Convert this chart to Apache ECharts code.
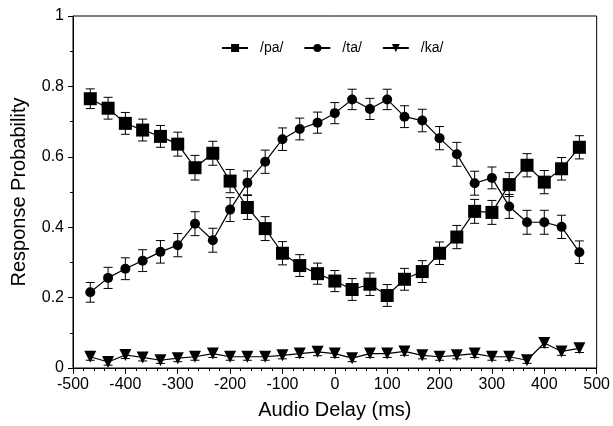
<!DOCTYPE html>
<html>
<head>
<meta charset="utf-8">
<script src="https://cdn.jsdelivr.net/npm/echarts@6/dist/echarts.min.js"></script>
<style>
html,body{margin:0;padding:0;background:#fff;}
#chart{width:613px;height:426px;}
</style>
</head>
<body>
<div id="chart"></div>
<script>
// ---- data ----
const delays = [-467,-433,-400,-367,-333,-300,-267,-233,-200,-167,-133,-100,-67,-33,0,33,67,100,133,167,200,233,267,300,333,367,400,433,467];
const paValues = [0.765,0.738,0.695,0.676,0.658,0.636,0.569,0.610,0.531,0.456,0.396,0.326,0.291,0.268,0.247,0.223,0.238,0.206,0.252,0.274,0.326,0.372,0.445,0.442,0.521,0.576,0.528,0.566,0.627];
const taValues = [0.215,0.256,0.282,0.305,0.330,0.349,0.410,0.363,0.450,0.526,0.586,0.650,0.679,0.697,0.724,0.763,0.736,0.763,0.714,0.703,0.653,0.607,0.525,0.540,0.459,0.414,0.414,0.401,0.329];
const kaValues = [0.032,0.017,0.037,0.030,0.022,0.028,0.032,0.041,0.032,0.032,0.032,0.036,0.041,0.046,0.041,0.028,0.041,0.041,0.047,0.036,0.032,0.036,0.041,0.032,0.032,0.022,0.071,0.047,0.056];
const paErrors = [0.028,0.031,0.031,0.031,0.031,0.034,0.035,0.034,0.033,0.034,0.034,0.033,0.031,0.030,0.030,0.031,0.032,0.031,0.031,0.031,0.032,0.033,0.034,0.034,0.034,0.033,0.033,0.032,0.033];
const taErrors = [0.028,0.030,0.031,0.031,0.032,0.033,0.034,0.034,0.034,0.034,0.033,0.032,0.031,0.030,0.030,0.029,0.030,0.029,0.031,0.032,0.033,0.034,0.034,0.031,0.034,0.034,0.034,0.033,0.032];
const kaErrors = [0.010,0.009,0.010,0.010,0.009,0.010,0.010,0.011,0.010,0.010,0.010,0.010,0.011,0.011,0.011,0.010,0.011,0.011,0.011,0.010,0.010,0.010,0.011,0.010,0.010,0.009,0.013,0.011,0.012];
const seriesNames = ['/pa/','/ta/','/ka/'];
const xTicks = {min:-500, max:500, interval:100};
const yTicks = {min:0, max:1, interval:0.2};

const FONT = 'Liberation Sans, Arial, sans-serif';
const chart = echarts.init(document.getElementById('chart'), null, {renderer:'canvas'});

function pairs(vals){ return delays.map((d,i)=>[d, vals[i]]); }
function errData(vals, errs){ return delays.map((d,i)=>[d, vals[i]-errs[i], vals[i]+errs[i]]); }

function errorSeries(vals, errs){
  return {
    type:'custom',
    silent:true,
    z:1,
    data: errData(vals, errs),
    renderItem: function(params, api){
      const x = api.value(0);
      const lo = api.coord([x, api.value(1)]);
      const hi = api.coord([x, api.value(2)]);
      const cw = 4.5;
      const st = {stroke:'#000', lineWidth:1};
      return {
        type:'group',
        children:[
          {type:'line', shape:{x1:lo[0], y1:lo[1], x2:hi[0], y2:hi[1]}, style:st},
          {type:'line', shape:{x1:lo[0]-cw, y1:lo[1], x2:lo[0]+cw, y2:lo[1]}, style:st},
          {type:'line', shape:{x1:hi[0]-cw, y1:hi[1], x2:hi[0]+cw, y2:hi[1]}, style:st}
        ]
      };
    }
  };
}

function lineSeries(name, vals, symbol, size, rotate){
  return {
    name:name,
    type:'line',
    z:3,
    data:pairs(vals),
    symbol:symbol,
    symbolSize:size,
    symbolRotate:rotate||0,
    showAllSymbol:true,
    lineStyle:{color:'#000', width:1.2},
    itemStyle:{color:'#000', borderWidth:0},
    emphasis:{disabled:true},
    animation:false
  };
}

const option = {
  animation:false,
  backgroundColor:'#fff',
  grid:{left:73, right:13, top:16, bottom:58, show:true, borderColor:'#000', borderWidth:1, backgroundColor:'transparent'},
  legend:{
    top:36, left:216,
    itemWidth:26, itemHeight:10, itemGap:20,
    textStyle:{fontFamily:FONT, fontSize:14, color:'#000', padding:[0,0,0,7]},
    data:seriesNames
  },
  xAxis:{
    type:'value', min:xTicks.min, max:xTicks.max, interval:xTicks.interval,
    name:'Audio Delay (ms)', nameLocation:'middle', nameGap:32,
    nameTextStyle:{fontFamily:FONT, fontSize:20, color:'#000'},
    axisLine:{show:true, onZero:false, lineStyle:{color:'#000', width:1}},
    axisTick:{show:true, inside:false, length:6, lineStyle:{color:'#000'}},
    minorTick:{show:true, splitNumber:5, length:3, lineStyle:{color:'#000'}},
    splitLine:{show:false},
    axisLabel:{fontFamily:FONT, fontSize:16, color:'#000', margin:9}
  },
  yAxis:{
    type:'value', min:yTicks.min, max:yTicks.max, interval:yTicks.interval,
    name:'Response Probability', nameLocation:'middle', nameGap:44,
    nameTextStyle:{fontFamily:FONT, fontSize:20, color:'#000'},
    axisLine:{show:true, onZero:false, lineStyle:{color:'#000', width:1}},
    axisTick:{show:true, inside:false, length:5, lineStyle:{color:'#000'}},
    minorTick:{show:true, splitNumber:2, length:3, lineStyle:{color:'#000'}},
    splitLine:{show:false},
    axisLabel:{fontFamily:FONT, fontSize:16, color:'#000', margin:9,
      formatter:function(v){ return (v===0||v===1) ? String(v) : v.toFixed(1); }}
  },
  series:[
    errorSeries(paValues, paErrors),
    errorSeries(taValues, taErrors),
    errorSeries(kaValues, kaErrors),
    lineSeries(seriesNames[0], paValues, 'rect', 13),
    lineSeries(seriesNames[1], taValues, 'circle', 10),
    lineSeries(seriesNames[2], kaValues, 'triangle', 12, 180)
  ]
};
chart.setOption(option);
</script>
</body>
</html>
